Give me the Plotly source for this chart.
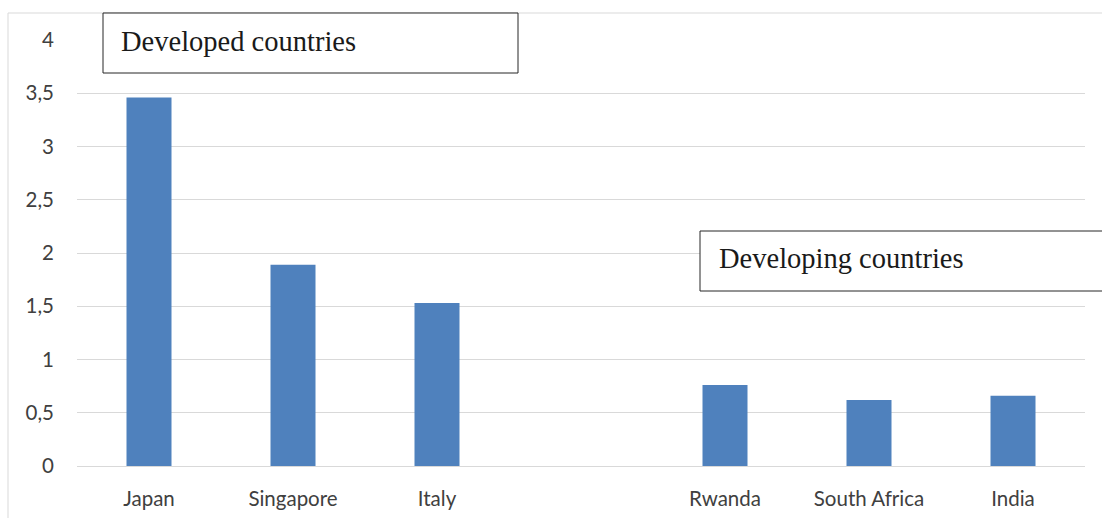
import plotly.graph_objects as go

countries = ["Japan", "Singapore", "Italy", "Rwanda", "South Africa", "India"]
values = [3.46, 1.89, 1.53, 0.76, 0.62, 0.66]
category_order = ["Japan", "Singapore", "Italy", " ", "Rwanda", "South Africa", "India"]
y_ticks = [0, 0.5, 1, 1.5, 2, 2.5, 3, 3.5, 4]
group_labels = ["Developed countries", "Developing countries"]

W, H = 1102, 518
L, R, T, B = 77, 17, 40, 52
pw, ph = W - L - R, H - T - B

def px_x(x):
    return (x - L) / pw

def px_y(y):
    return (H - B - y) / ph

fig = go.Figure()
fig.add_trace(go.Bar(
    x=countries, y=values,
    marker=dict(color="#4F81BD", line=dict(width=0)),
    width=0.3125,
))

grid = "#D9D9D9"
shapes = [
    # outer chart frame (top and left edges visible)
    dict(type="line", xref="paper", yref="paper", x0=px_x(8), x1=px_x(1110), y0=px_y(13), y1=px_y(13),
         line=dict(color=grid, width=1)),
    dict(type="line", xref="paper", yref="paper", x0=px_x(8), x1=px_x(8), y0=px_y(13), y1=px_y(530),
         line=dict(color=grid, width=1)),
    # label boxes
    dict(type="rect", xref="paper", yref="paper", x0=px_x(103), x1=px_x(518), y0=px_y(73), y1=px_y(13),
         line=dict(color="#262626", width=1), fillcolor="white", layer="above"),
    dict(type="rect", xref="paper", yref="paper", x0=px_x(700), x1=px_x(1120), y0=px_y(291), y1=px_y(231),
         line=dict(color="#262626", width=1), fillcolor="white", layer="above"),
]

annotations = [
    dict(text=group_labels[0], xref="paper", yref="paper", x=px_x(119), y=px_y(41),
         xanchor="left", yanchor="middle", showarrow=False,
         font=dict(family="Liberation Serif", size=28.5, color="#1a1a1a")),
    dict(text=group_labels[1], xref="paper", yref="paper", x=px_x(717), y=px_y(258),
         xanchor="left", yanchor="middle", showarrow=False,
         font=dict(family="Liberation Serif", size=28.5, color="#1a1a1a")),
]

fig.update_layout(
    width=W, height=H,
    margin=dict(l=L, r=R, t=T, b=B, autoexpand=False),
    paper_bgcolor="white", plot_bgcolor="white",
    separators=", ",
    showlegend=False,
    shapes=shapes,
    annotations=annotations,
    xaxis=dict(
        type="category", categoryorder="array", categoryarray=category_order,
        range=[-0.5, 6.5], showgrid=False, showline=False, zeroline=False,
        automargin=False,
        ticks="", ticklabelstandoff=18,
        tickfont=dict(family="Lato", size=20.5, color="#404040"),
    ),
    yaxis=dict(
        range=[0, 4], tickvals=y_ticks, showgrid=True, gridcolor=grid, gridwidth=1,
        zeroline=True, zerolinecolor=grid, zerolinewidth=1, showline=False,
        automargin=False,
        ticks="", ticklabelstandoff=22,
        tickfont=dict(family="Lato", size=20.5, color="#404040"),
    ),
)

fig.write_html("out.html")
